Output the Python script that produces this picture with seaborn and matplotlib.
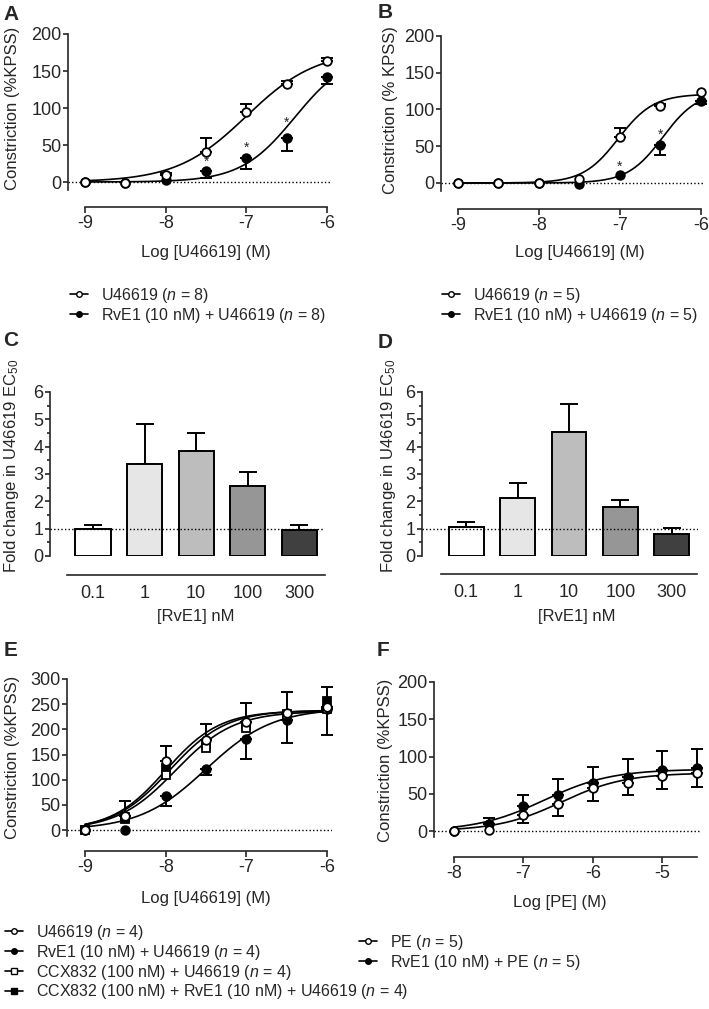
import numpy as np
import matplotlib
matplotlib.use("Agg")
import matplotlib.pyplot as plt
from matplotlib.lines import Line2D
from matplotlib.ticker import MultipleLocator
import seaborn as sns

# ---- values ----
log_u = [-9, -8.5, -8, -7.5, -7, -6.5, -6]
log_pe = [-8, -7.5, -7, -6.5, -6, -5.5, -5, -4.5]

# A: U46619 (n=8) vs RvE1 + U46619
a_ctrl = [0, -1, 9, 41, 94, 132, 163]
a_ctrl_err = [0, 0, 3, 18, 11, 5, 5]
a_rve1 = [0, -1, 3, 15, 32, 59, 142]
a_rve1_err = [0, 0, 0, 10, 15, 17, 10]
a_ctrl_fit = [178, -7.0, 1.0]   # top, logEC50, hill
a_rve1_fit = [175, -6.4, 1.3]
a_star_x = [-7.5, -7, -6.5]
a_star_y = [28, 46, 80]

# B: n=5
b_ctrl = [0, 0, 0, 5, 63, 105, 124]
b_ctrl_err = [0, 0, 0, 0, 12, 3, 0]
b_rve1 = [0, 0, 0, -1, 11, 52, 112]
b_rve1_err = [0, 0, 0, 0, 0, 14, 5]
b_ctrl_fit = [121, -7.02, 2.0]
b_rve1_fit = [125, -6.47, 2.0]
b_star_x = [-7, -6.5]
b_star_y = [22, 65]

# C / D: fold change in EC50
rve1_conc = ["0.1", "1", "10", "100", "300"]
bar_colors = ["#ffffff", "#e6e6e6", "#bdbdbd", "#969696", "#404040"]
c_fold = [1.0, 3.35, 3.85, 2.57, 0.95]
c_fold_err = [0.12, 1.47, 0.65, 0.51, 0.18]
d_fold = [1.05, 2.13, 4.53, 1.8, 0.8]
d_fold_err = [0.2, 0.55, 1.02, 0.25, 0.22]

# E: n=4
e_ctrl = [0, 28, 137, 178, 214, 233, 244]
e_ctrl_err = [0, 29, 30, 32, 38, 42, 40]
e_rve1 = [0, 0, 68, 121, 181, 218, 240]
e_rve1_err = [0, 0, 20, 11, 40, 46, 52]
e_ccx = [0, 25, 109, 162, 203, 228, 240]
e_ccx_rve1 = [0, 22, 123, 170, 208, 230, 256]
e_ctrl_fit = [237, -8.0, 1.3]
e_rve1_fit = [242, -7.5, 1.05]
e_ccx_fit = [236, -7.88, 1.2]
e_ccx_rve1_fit = [238, -7.95, 1.25]

# F: PE, n=5
f_pe = [0, 1, 21, 36, 58, 65, 74, 78]
f_pe_err = [0, 0, 10, 16, 18, 17, 18, 19]
f_rve1 = [0, 10, 33, 49, 65, 73, 82, 85]
f_rve1_err = [0, 8, 16, 21, 21, 24, 25, 25]
f_pe_fit = [78, -6.45, 0.95]
f_rve1_fit = [83, -6.7, 0.9]

W, H = 709, 1009

sns.set_style("ticks")
plt.rcParams['font.family'] = ['Liberation Sans', 'DejaVu Sans']
plt.rcParams['mathtext.fontset'] = 'custom'
plt.rcParams['mathtext.rm'] = 'Liberation Sans'
plt.rcParams['mathtext.it'] = 'Liberation Sans:italic'
plt.rcParams['axes.unicode_minus'] = False
plt.rcParams['axes.linewidth'] = 1.2

fig = plt.figure(figsize=(W / 100, H / 100), dpi=100)


def px_axes(left, right, top, bottom):
    return fig.add_axes([left / W, 1 - bottom / H, (right - left) / W, (bottom - top) / H])


def ftext(x, y, s, **kw):
    fig.text(x / W, 1 - y / H, s, ha='center', va='center', **kw)


def hill(x, p):
    top, ec, h = p
    return top / (1 + 10 ** (h * (ec - x)))


def curve(ax, p, x0, x1):
    xs = np.linspace(x0, x1, 200)
    sns.lineplot(x=xs, y=hill(xs, p), ax=ax, color='k', lw=1.2, zorder=2)


def points(ax, x, y, err, up, marker, face, ms=6.2):
    x = np.array(x, float)
    y = np.array(y, float)
    if err is not None:
        err = np.array(err, float)
        m = err > 0
        z = np.zeros(m.sum())
        yerr = [z, err[m]] if up else [err[m], z]
        ax.errorbar(x[m], y[m], yerr=yerr, fmt='none', ecolor='k', elinewidth=1.4,
                    capsize=4.2, capthick=1.4, zorder=3, clip_on=False)
    ax.plot(x, y, ls='none', marker=marker, ms=ms, mfc=face, mec='k', mew=1.3,
            zorder=4, clip_on=False)


def style_curve_ax(ax, xlim, ylim, xbounds, xticks, yticks, off_px):
    ax.set_xlim(xlim)
    ax.set_ylim(ylim)
    sns.despine(ax=ax)
    ax.spines['bottom'].set_position(('outward', off_px * 0.72))
    ax.spines['bottom'].set_bounds(*xbounds)
    ax.set_xticks(xticks)
    ax.set_yticks(yticks)
    ax.tick_params(axis='x', length=4.5, width=1.2, pad=1, labelsize=13)
    ax.tick_params(axis='y', length=3.6, width=1.2, pad=1, labelsize=13)
    ax.set_xlabel('')
    ax.set_ylabel('')
    ax.axhline(0, color='k', ls=(0, (1, 1.6)), lw=1, zorder=1)


def style_bar_ax(ax, xlim, off_px):
    ax.set_xlim(xlim)
    ax.set_ylim(0, 6)
    sns.despine(ax=ax)
    ax.spines['bottom'].set_position(('outward', off_px * 0.72))
    ax.spines['bottom'].set_bounds(-0.5, 4.5)
    ax.set_yticks(range(7))
    ax.yaxis.set_minor_locator(MultipleLocator(0.5))
    ax.tick_params(axis='y', which='major', length=3.6, width=1.2, pad=1, labelsize=13)
    ax.tick_params(axis='y', which='minor', length=2.2, width=1.2)
    ax.tick_params(axis='x', length=0, pad=7, labelsize=13)
    ax.set_xlabel('')
    ax.set_ylabel('')
    ax.axhline(1, color='k', ls=(0, (1, 1.6)), lw=1, zorder=5)


def bars(ax, vals, errs):
    sns.barplot(x=rve1_conc, y=vals, hue=rve1_conc, order=rve1_conc,
                palette=dict(zip(rve1_conc, bar_colors)), legend=False,
                edgecolor='k', linewidth=1.4, width=0.68, saturation=1,
                errorbar=None, ax=ax, zorder=2)
    ax.errorbar(range(len(vals)), vals, yerr=[np.zeros(len(errs)), errs], fmt='none',
                ecolor='k', elinewidth=1.4, capsize=6.5, capthick=1.4, zorder=1)


def legend(x, y, entries):
    handles = [Line2D([], [], color='k', lw=1.2, marker=mk, ms=4, mfc=fc, mec='k', mew=1)
               for mk, fc, _ in entries]
    labels = [lab for _, _, lab in entries]
    fig.legend(handles, labels, loc='upper left', bbox_to_anchor=(x / W, 1 - y / H),
               frameon=False, fontsize=11.5, handlelength=1.15, handletextpad=0.8,
               labelspacing=0.05, borderpad=0, borderaxespad=0)


# ---- A ----
ax = px_axes(68, 332, 34, 190)
curve(ax, a_ctrl_fit, -9, -6)
curve(ax, a_rve1_fit, -9, -6)
points(ax, log_u, a_rve1, a_rve1_err, False, 'o', 'k')
points(ax, log_u, a_ctrl, a_ctrl_err, True, 'o', 'white')
for sx, sy in zip(a_star_x, a_star_y):
    ax.text(sx, sy, '*', ha='center', va='center', fontsize=10)
style_curve_ax(ax, (-9.21, -5.94), (-10.8, 200), (-9, -6), [-9, -8, -7, -6],
               [0, 50, 100, 150, 200], 17)
ftext(206, 253, 'Log [U46619] (M)', fontsize=12)
ftext(13, 108, 'Constriction (%KPSS)', fontsize=12, rotation=90)
ftext(11, 14, 'A', fontsize=15, fontweight='bold')
legend(70, 286, [('o', 'white', 'U46619 ($n$ = 8)'),
                 ('o', 'k', 'RvE1 (10 nM) + U46619 ($n$ = 8)')])

# ---- B ----
ax = px_axes(441, 705, 36, 191)
curve(ax, b_ctrl_fit, -9, -6)
curve(ax, b_rve1_fit, -9, -6)
points(ax, log_u, b_rve1, b_rve1_err, False, 'o', 'k')
points(ax, log_u, b_ctrl, b_ctrl_err, True, 'o', 'white')
for sx, sy in zip(b_star_x, b_star_y):
    ax.text(sx, sy, '*', ha='center', va='center', fontsize=10)
style_curve_ax(ax, (-9.21, -5.95), (-10.9, 200), (-9, -6), [-9, -8, -7, -6],
               [0, 50, 100, 150, 200], 18)
ftext(580, 253, 'Log [U46619] (M)', fontsize=12)
ftext(391, 110, 'Constriction (% KPSS)', fontsize=12, rotation=90)
ftext(385, 12, 'B', fontsize=15, fontweight='bold')
legend(442, 286, [('o', 'white', 'U46619 ($n$ = 5)'),
                  ('o', 'k', 'RvE1 (10 nM) + U46619 ($n$ = 5)')])

# ---- C ----
ax = px_axes(50, 324, 392, 556)
bars(ax, c_fold, c_fold_err)
style_bar_ax(ax, (-0.835, 4.485), 19)
ftext(196, 617, '[RvE1] nM', fontsize=12)
ftext(12, 466, 'Fold change in U46619 EC$_{50}$', fontsize=12, rotation=90)
ftext(11, 341, 'C', fontsize=15, fontweight='bold')

# ---- D ----
ax = px_axes(422, 698, 392, 556)
bars(ax, d_fold, d_fold_err)
style_bar_ax(ax, (-0.86, 4.51), 18)
ftext(577, 617, '[RvE1] nM', fontsize=12)
ftext(388, 466, 'Fold change in U46619 EC$_{50}$', fontsize=12, rotation=90)
ftext(385, 343, 'D', fontsize=15, fontweight='bold')

# ---- E ----
ax = px_axes(67, 332, 679, 836)
curve(ax, e_ctrl_fit, -9, -6)
curve(ax, e_rve1_fit, -9, -6)
curve(ax, e_ccx_fit, -9, -6)
curve(ax, e_ccx_rve1_fit, -9, -6)
points(ax, log_u, e_rve1, e_rve1_err, False, 'o', 'k')
points(ax, log_u, e_ccx_rve1, None, True, 's', 'k', ms=5.6)
points(ax, log_u, e_ccx, None, True, 's', 'white', ms=5.6)
points(ax, log_u, e_ctrl, e_ctrl_err, True, 'o', 'white')
style_curve_ax(ax, (-9.223, -5.94), (-11.9, 300), (-9, -6), [-9, -8, -7, -6],
               [0, 50, 100, 150, 200, 250, 300], 15)
ftext(206, 898, 'Log [U46619] (M)', fontsize=12)
ftext(13, 757, 'Constriction (%KPSS)', fontsize=12, rotation=90)
ftext(11, 651, 'E', fontsize=15, fontweight='bold')
legend(5, 923, [('o', 'white', 'U46619 ($n$ = 4)'),
                ('o', 'k', 'RvE1 (10 nM) + U46619 ($n$ = 4)'),
                ('s', 'white', 'CCX832 (100 nM) + U46619 ($n$ = 4)'),
                ('s', 'k', 'CCX832 (100 nM) + RvE1 (10 nM) + U46619 ($n$ = 4)')])

# ---- F ----
ax = px_axes(434, 700, 682, 837)
curve(ax, f_pe_fit, -8, -4.5)
curve(ax, f_rve1_fit, -8, -4.5)
points(ax, log_pe, f_rve1, f_rve1_err, True, 'o', 'k')
points(ax, log_pe, f_pe, f_pe_err, False, 'o', 'white')
style_curve_ax(ax, (-8.284, -4.46), (-8, 200), (-8, -4.5), [-8, -7, -6, -5],
               [0, 50, 100, 150, 200], 20)
ftext(560, 903, 'Log [PE] (M)', fontsize=12)
ftext(385, 760, 'Constriction (%KPSS)', fontsize=12, rotation=90)
ftext(383, 651, 'F', fontsize=15, fontweight='bold')
legend(359, 933, [('o', 'white', 'PE ($n$ = 5)'),
                  ('o', 'k', 'RvE1 (10 nM) + PE ($n$ = 5)')])

fig.savefig('out.png', dpi=100)
